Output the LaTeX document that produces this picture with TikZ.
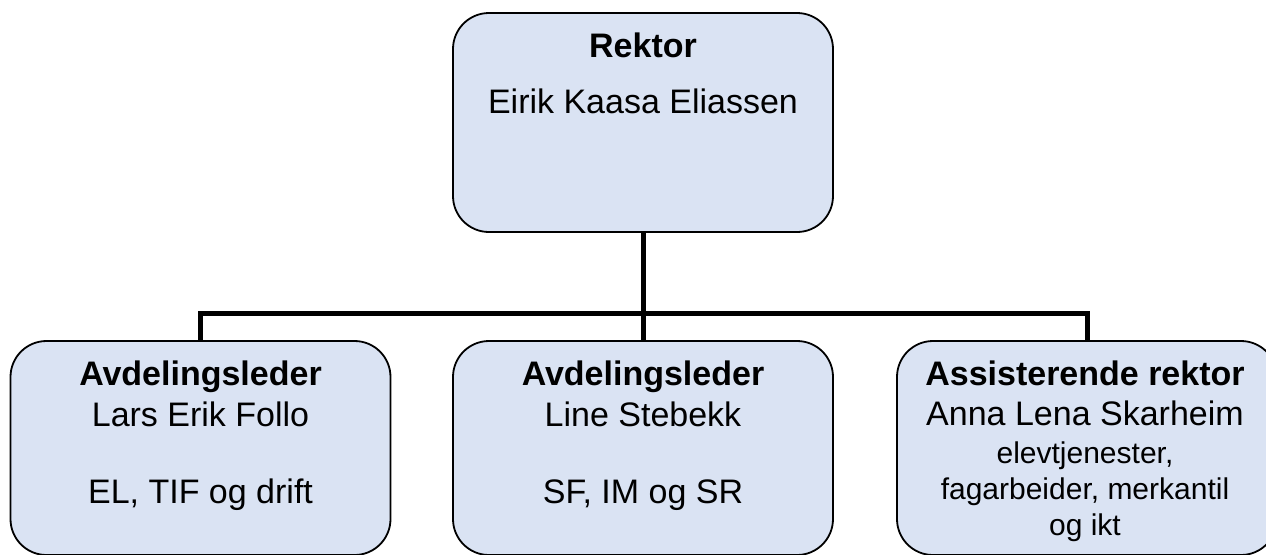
\documentclass[tikz,border=0pt]{standalone}
\usepackage{fontspec}
\setmainfont{Liberation Sans}
\usepackage{xcolor}
\usetikzlibrary{positioning}
\definecolor{boxblue}{RGB}{218,227,243}

\begin{document}
\begin{tikzpicture}[x=0.5pt,y=-0.5pt,
  orgbox/.style={draw=black, line width=0.9pt, fill=boxblue, rounded corners=18pt,
    minimum width=190pt, minimum height=107pt, inner sep=0pt},
  orgline/.style={anchor=base, inner sep=0pt, font=\fontsize{17}{19.5}\selectfont},
  orgsmall/.style={orgline, font=\fontsize{15}{18}\selectfont},
  link/.style={line width=2.5pt}]
\useasboundingbox (0,0) rectangle (1266,554);
\clip (0,0) rectangle (1266,554);
% boxes
\node[orgbox, minimum height=109.5pt] (rektor) at (643,122.5) {};
\node[orgbox] (avd1) at (200.5,448) {};
\node[orgbox] (avd2) at (643,448) {};
\node[orgbox] (ass) at (1087,448) {};
% lines
\coordinate (bar) at (643,313);
\draw[link] (rektor.south) -- (avd2.north);
\draw[link] (avd1.north) |- (bar) -| (ass.north);
% texts
\node[orgline] (rektortitle) at (643,57) {\textbf{Rektor}};
\node[orgline] (rektorname) at (643,113) {Eirik Kaasa Eliassen};
\node[orgline] (avd1title) at (200.5,385) {\textbf{Avdelingsleder}};
\node[orgline] (avd1name) at (200.5,426) {Lars Erik Follo};
\node[orgline] (avd1area) at (200.5,503) {EL, TIF og drift};
\node[orgline] (avd2title) at (643,385) {\textbf{Avdelingsleder}};
\node[orgline] (avd2name) at (643,426) {Line Stebekk};
\node[orgline] (avd2area) at (643,503) {SF, IM og SR};
\node[orgline] (asstitle) at (1085,385) {\textbf{Assisterende rektor}};
\node[orgline] (assname) at (1085,425) {Anna Lena Skarheim};
\node[orgsmall] (assarea1) at (1085,463) {elevtjenester,};
\node[orgsmall] (assarea2) at (1085,499) {fagarbeider, merkantil};
\node[orgsmall] (assarea3) at (1085,535) {og ikt};
\end{tikzpicture}
\end{document}
